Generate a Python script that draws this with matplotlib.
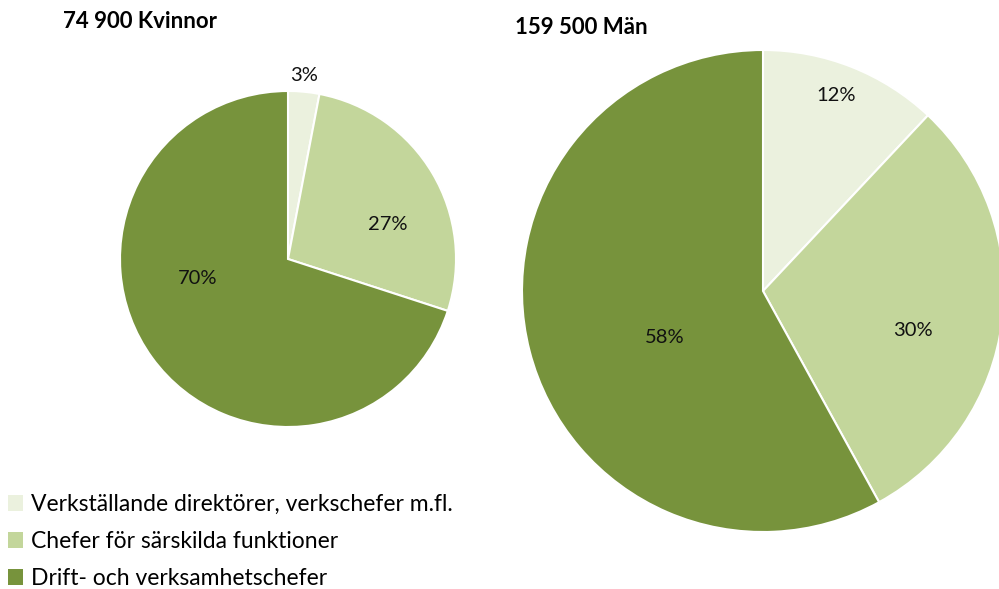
import matplotlib
matplotlib.use("Agg")
import matplotlib.pyplot as plt
from matplotlib.patches import Patch

plt.rcParams['font.family'] = ['Lato', 'DejaVu Sans']

categories = ["Verkställande direktörer, verkschefer m.fl.",
              "Chefer för särskilda funktioner",
              "Drift- och verksamhetschefer"]
colors = ["#EBF1DE", "#C3D69B", "#77933C"]

women_title = "74 900 Kvinnor"
women_values = [3, 27, 70]
men_title = "159 500 Män"
men_values = [12, 30, 58]

# label positions in pie-radius units (relative to pie centre)
women_label_pos = [(0.095, 1.095), (0.595, 0.208), (-0.536, -0.119)]
men_label_pos = [(0.303, 0.813), (0.622, -0.162), (-0.407, -0.191)]

W, H = 999, 589
fig = plt.figure(figsize=(W / 100, H / 100), dpi=100)

def add_pie(cx, cy, r, values, label_pos):
    ax = fig.add_axes([(cx - r) / W, (H - cy - r) / H, 2 * r / W, 2 * r / H])
    wedges, _ = ax.pie(values, colors=colors, startangle=90, counterclock=False,
                       radius=1, wedgeprops=dict(edgecolor="white", linewidth=1.5))
    for v, (x, y) in zip(values, label_pos):
        ax.text(x, y, f"{v}%", ha="center", va="center", fontsize=14.5, color="#111111")
    ax.set_xlim(-1, 1)
    ax.set_ylim(-1, 1)
    ax.set_aspect("equal")
    ax.axis("off")
    return wedges

add_pie(288, 259, 168, women_values, women_label_pos)
add_pie(763, 291, 241, men_values, men_label_pos)

fig.text(63 / W, 1 - 22 / H, women_title, fontsize=16, fontweight="bold", ha="left", va="center")
fig.text(515 / W, 1 - 28 / H, men_title, fontsize=16, fontweight="bold", ha="left", va="center")

handles = [Patch(facecolor=c, edgecolor="none") for c in colors]
fig.legend(handles, categories, loc="upper left", bbox_to_anchor=(8 / W, 1 - 494 / H),
           frameon=False, fontsize=16.5, handlelength=0.65, handleheight=0.65,
           handletextpad=0.35, labelspacing=0.70, borderpad=0, borderaxespad=0)

fig.savefig("out.png", dpi=100)
